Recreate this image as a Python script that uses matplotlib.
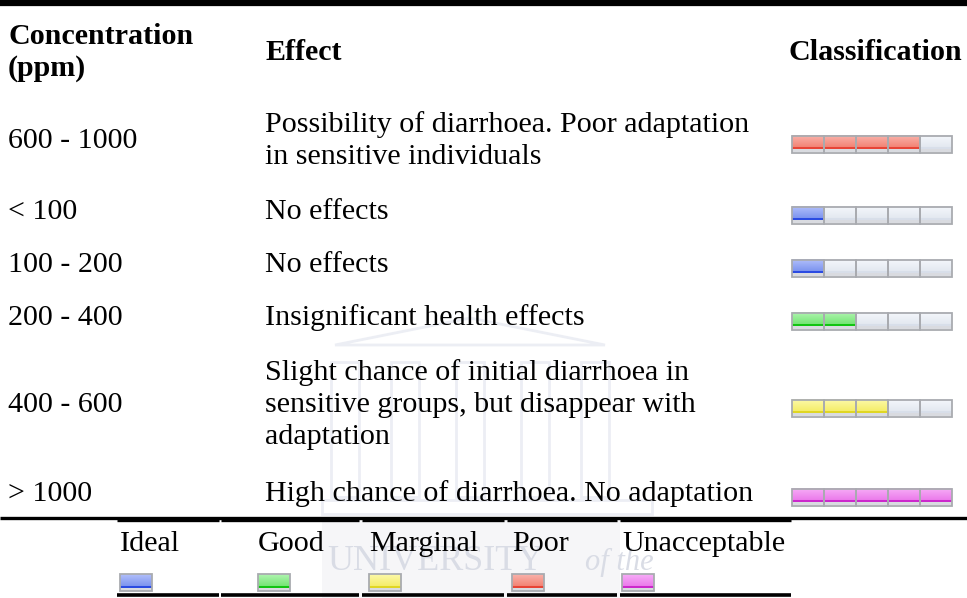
import numpy as np
import matplotlib.pyplot as plt
from matplotlib.patches import Rectangle, Polygon
from matplotlib.colors import to_rgb

# table content
concentration = ["600 - 1000", "< 100", "100 - 200", "200 - 400", "400 - 600", "> 1000"]
effects = [
    ["Possibility of diarrhoea. Poor adaptation", "in sensitive individuals"],
    ["No effects"],
    ["No effects"],
    ["Insignificant health effects"],
    ["Slight chance of initial diarrhoea in", "sensitive groups, but disappear with", "adaptation"],
    ["High chance of diarrhoea. No adaptation"],
]
classification = ["Poor", "Ideal", "Ideal", "Good", "Marginal", "Unacceptable"]
levels = ["Ideal", "Good", "Marginal", "Poor", "Unacceptable"]

# (light, mid, stripe) colours of each level
level_colors = {
    "Ideal": ("#b0befa", "#7f96f0", "#2b4be2"),
    "Good": ("#aef4ae", "#78e678", "#12c412"),
    "Marginal": ("#fcf9a8", "#f5ee6c", "#e0d624"),
    "Poor": ("#f9b2aa", "#f38577", "#e84436"),
    "Unacceptable": ("#f7acf7", "#eb7deb", "#cc28cc"),
}
empty_colors = ("#f4f7fb", "#e4e9f1", "#d8dfea")

W, H = 967, 598
FS = 21.6
FONT = ["Liberation Serif", "DejaVu Serif"]

row_y = [138, 209, 262, 315, 402, 491]
LINE = 32
x_conc, x_eff, x_bar = 8, 265, 792
seg_w, seg_h = 32, 17


def segment(ax, x, y, cols):
    light, mid, stripe = [np.array(to_rgb(c)) for c in cols]
    rows = []
    for i in range(seg_h):
        if i < seg_h - 5:
            t = i / (seg_h - 6)
            rows.append(light * (1 - t) + mid * t)
        elif i < seg_h - 3:
            rows.append(stripe)
        else:
            rows.append(np.array(to_rgb("#d9dbe0")))
    img = np.array(rows)[:, None, :]
    ax.imshow(img, extent=(x, x + seg_w, y + seg_h, y), origin="upper",
              aspect="auto", interpolation="bilinear", zorder=3)
    ax.add_patch(Rectangle((x, y), seg_w, seg_h, fill=False, ec="#a9abb0", lw=1.3, zorder=4))


fig = plt.figure(figsize=(W / 100, H / 100), dpi=100)
ax = fig.add_axes([0, 0, 1, 1])
ax.set_xlim(0, W)
ax.set_ylim(H, 0)
ax.axis("off")

# faint watermark
wm = "#eceef4"
ax.add_patch(Rectangle((322, 520), 298, 78, color="#f6f6f8", lw=0, zorder=0))
ax.add_patch(Polygon([[335, 345], [470, 318], [605, 345]], closed=True, fill=False, ec=wm, lw=2, zorder=0))
for cx in [345, 405, 470, 535, 595]:
    ax.add_patch(Rectangle((cx - 14, 362), 28, 135, fill=False, ec=wm, lw=2, zorder=0))
ax.add_patch(Rectangle((322, 500), 330, 14, fill=False, ec=wm, lw=2, zorder=0))
ax.text(327, 562, "UNIVERSITY", fontsize=26, family=FONT, color="#d9dce5", va="center", zorder=0)
ax.text(585, 562, "of the", fontsize=22, family=FONT, style="italic", color="#d9dce5", va="center", zorder=0)

# rules
ax.plot([0, W], [2.5, 2.5], color="black", lw=4.5, solid_capstyle="butt")
ax.plot([0, W], [518, 518], color="black", lw=2.4, solid_capstyle="butt")
leg_cols = [(117, 219), (221, 359), (362, 504), (507, 617), (620, 791)]
for a, b in leg_cols:
    ax.plot([a, b], [519.5, 519.5], color="black", lw=2.4, solid_capstyle="butt")
    ax.plot([a, b], [594.5, 594.5], color="black", lw=2.6, solid_capstyle="butt")

# header
ax.text(x_conc, 44, "Concentration", fontsize=FS, family=FONT, weight="bold", va="baseline")
ax.text(x_conc, 76, "(ppm)", fontsize=FS, family=FONT, weight="bold", va="baseline")
ax.text(x_eff, 60, "Effect", fontsize=FS, family=FONT, weight="bold", va="baseline")
ax.text(789, 60, "Classification", fontsize=FS, family=FONT, weight="bold", va="baseline")

# body rows
for yc, conc, eff, cls in zip(row_y, concentration, effects, classification):
    ax.text(x_conc, yc + 10, conc, fontsize=FS, family=FONT, va="baseline")
    n = len(eff)
    for k, line in enumerate(eff):
        ly = yc + (k - (n - 1) / 2) * LINE
        ax.text(x_eff, ly + 10, line, fontsize=FS, family=FONT, va="baseline")
    filled = levels.index(cls) + 1
    by = yc + 6 - seg_h / 2
    for s in range(5):
        cols = level_colors[cls] if s < filled else empty_colors
        segment(ax, x_bar + s * seg_w, by, cols)

# legend
leg_x = [120, 258, 369, 512, 622]
for lx, lev in zip(leg_x, levels):
    ax.text(lx, 551, lev, fontsize=FS, family=FONT, va="baseline")
    segment(ax, lx, 574, level_colors[lev])

fig.savefig("out.png", dpi=100)
